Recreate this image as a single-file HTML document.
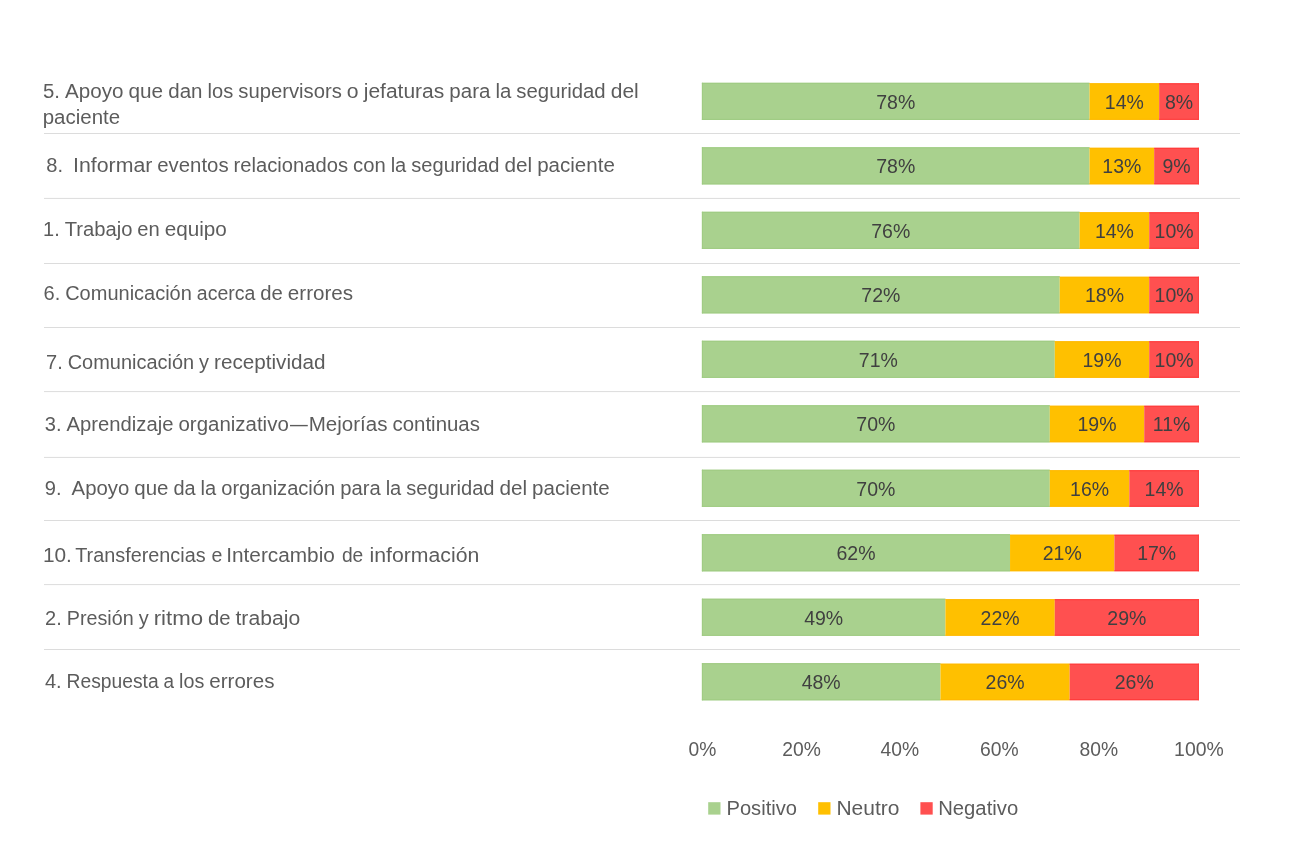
<!DOCTYPE html>
<html lang="es">
<head>
<meta charset="utf-8">
<title>Resultados por dimensión</title>
<style>
html,body{margin:0;padding:0;background:#fff;}
body{width:1314px;height:865px;overflow:hidden;}
svg{display:block;}
text{font-family:"Liberation Sans",sans-serif;font-size:19.4px;}
.cat{fill:#5c5c5c;}
.val{fill:#404040;text-anchor:middle;font-size:19.5px;}
.ax{fill:#5c5c5c;text-anchor:middle;}
.lg{fill:#5c5c5c;}
</style>
</head>
<body>
<svg width="1314" height="865" viewBox="0 0 1314 865">
<rect x="0" y="0" width="1314" height="865" fill="#ffffff"/>

<rect x="44" y="133.00" width="1196" height="1" fill="#dcdcdc"/>
<rect x="44" y="197.90" width="1196" height="1" fill="#dcdcdc"/>
<rect x="44" y="263.00" width="1196" height="1" fill="#dcdcdc"/>
<rect x="44" y="327.00" width="1196" height="1" fill="#dcdcdc"/>
<rect x="44" y="391.10" width="1196" height="1" fill="#dcdcdc"/>
<rect x="44" y="456.90" width="1196" height="1" fill="#dcdcdc"/>
<rect x="44" y="520.00" width="1196" height="1" fill="#dcdcdc"/>
<rect x="44" y="584.10" width="1196" height="1" fill="#dcdcdc"/>
<rect x="44" y="649.00" width="1196" height="1" fill="#dcdcdc"/>
<rect x="701.90" y="82.80" width="387.66" height="37.10" fill="#a9d18e"/>
<rect x="701.90" y="82.80" width="387.66" height="1" fill="#9fcb82"/>
<rect x="701.90" y="118.90" width="387.66" height="1" fill="#9fcb82"/>
<rect x="1089.56" y="83.30" width="69.58" height="36.50" fill="#ffc000"/>
<rect x="1089.56" y="83.30" width="69.58" height="1" fill="#ffb800"/>
<rect x="1089.56" y="118.80" width="69.58" height="1" fill="#ffb800"/>
<rect x="1159.14" y="83.30" width="39.76" height="36.50" fill="#ff5050"/>
<rect x="1159.14" y="83.30" width="39.76" height="1" fill="#ff3838"/>
<rect x="1159.14" y="118.80" width="39.76" height="1" fill="#ff3838"/>
<rect x="701.90" y="82.80" width="1" height="37.10" fill="#9fcb82"/>
<rect x="1197.90" y="83.30" width="1" height="36.50" fill="#ff4040"/>
<text class="val" x="895.73" y="109.00">78%</text>
<text class="val" x="1124.35" y="109.00">14%</text>
<text class="val" x="1179.02" y="109.00">8%</text>
<rect x="701.90" y="147.29" width="387.66" height="37.10" fill="#a9d18e"/>
<rect x="701.90" y="147.29" width="387.66" height="1" fill="#9fcb82"/>
<rect x="701.90" y="183.39" width="387.66" height="1" fill="#9fcb82"/>
<rect x="1089.56" y="147.79" width="64.61" height="36.50" fill="#ffc000"/>
<rect x="1089.56" y="147.79" width="64.61" height="1" fill="#ffb800"/>
<rect x="1089.56" y="183.29" width="64.61" height="1" fill="#ffb800"/>
<rect x="1154.17" y="147.79" width="44.73" height="36.50" fill="#ff5050"/>
<rect x="1154.17" y="147.79" width="44.73" height="1" fill="#ff3838"/>
<rect x="1154.17" y="183.29" width="44.73" height="1" fill="#ff3838"/>
<rect x="701.90" y="147.29" width="1" height="37.10" fill="#9fcb82"/>
<rect x="1197.90" y="147.79" width="1" height="36.50" fill="#ff4040"/>
<text class="val" x="895.73" y="173.49">78%</text>
<text class="val" x="1121.87" y="173.49">13%</text>
<text class="val" x="1176.54" y="173.49">9%</text>
<rect x="701.90" y="211.78" width="377.72" height="37.10" fill="#a9d18e"/>
<rect x="701.90" y="211.78" width="377.72" height="1" fill="#9fcb82"/>
<rect x="701.90" y="247.88" width="377.72" height="1" fill="#9fcb82"/>
<rect x="1079.62" y="212.28" width="69.58" height="36.50" fill="#ffc000"/>
<rect x="1079.62" y="212.28" width="69.58" height="1" fill="#ffb800"/>
<rect x="1079.62" y="247.78" width="69.58" height="1" fill="#ffb800"/>
<rect x="1149.20" y="212.28" width="49.70" height="36.50" fill="#ff5050"/>
<rect x="1149.20" y="212.28" width="49.70" height="1" fill="#ff3838"/>
<rect x="1149.20" y="247.78" width="49.70" height="1" fill="#ff3838"/>
<rect x="701.90" y="211.78" width="1" height="37.10" fill="#9fcb82"/>
<rect x="1197.90" y="212.28" width="1" height="36.50" fill="#ff4040"/>
<text class="val" x="890.76" y="237.98">76%</text>
<text class="val" x="1114.41" y="237.98">14%</text>
<text class="val" x="1174.05" y="237.98">10%</text>
<rect x="701.90" y="276.27" width="357.84" height="37.10" fill="#a9d18e"/>
<rect x="701.90" y="276.27" width="357.84" height="1" fill="#9fcb82"/>
<rect x="701.90" y="312.37" width="357.84" height="1" fill="#9fcb82"/>
<rect x="1059.74" y="276.77" width="89.46" height="36.50" fill="#ffc000"/>
<rect x="1059.74" y="276.77" width="89.46" height="1" fill="#ffb800"/>
<rect x="1059.74" y="312.27" width="89.46" height="1" fill="#ffb800"/>
<rect x="1149.20" y="276.77" width="49.70" height="36.50" fill="#ff5050"/>
<rect x="1149.20" y="276.77" width="49.70" height="1" fill="#ff3838"/>
<rect x="1149.20" y="312.27" width="49.70" height="1" fill="#ff3838"/>
<rect x="701.90" y="276.27" width="1" height="37.10" fill="#9fcb82"/>
<rect x="1197.90" y="276.77" width="1" height="36.50" fill="#ff4040"/>
<text class="val" x="880.82" y="302.47">72%</text>
<text class="val" x="1104.47" y="302.47">18%</text>
<text class="val" x="1174.05" y="302.47">10%</text>
<rect x="701.90" y="340.76" width="352.87" height="37.10" fill="#a9d18e"/>
<rect x="701.90" y="340.76" width="352.87" height="1" fill="#9fcb82"/>
<rect x="701.90" y="376.86" width="352.87" height="1" fill="#9fcb82"/>
<rect x="1054.77" y="341.26" width="94.43" height="36.50" fill="#ffc000"/>
<rect x="1054.77" y="341.26" width="94.43" height="1" fill="#ffb800"/>
<rect x="1054.77" y="376.76" width="94.43" height="1" fill="#ffb800"/>
<rect x="1149.20" y="341.26" width="49.70" height="36.50" fill="#ff5050"/>
<rect x="1149.20" y="341.26" width="49.70" height="1" fill="#ff3838"/>
<rect x="1149.20" y="376.76" width="49.70" height="1" fill="#ff3838"/>
<rect x="701.90" y="340.76" width="1" height="37.10" fill="#9fcb82"/>
<rect x="1197.90" y="341.26" width="1" height="36.50" fill="#ff4040"/>
<text class="val" x="878.34" y="366.96">71%</text>
<text class="val" x="1101.99" y="366.96">19%</text>
<text class="val" x="1174.05" y="366.96">10%</text>
<rect x="701.90" y="405.25" width="347.90" height="37.10" fill="#a9d18e"/>
<rect x="701.90" y="405.25" width="347.90" height="1" fill="#9fcb82"/>
<rect x="701.90" y="441.35" width="347.90" height="1" fill="#9fcb82"/>
<rect x="1049.80" y="405.75" width="94.43" height="36.50" fill="#ffc000"/>
<rect x="1049.80" y="405.75" width="94.43" height="1" fill="#ffb800"/>
<rect x="1049.80" y="441.25" width="94.43" height="1" fill="#ffb800"/>
<rect x="1144.23" y="405.75" width="54.67" height="36.50" fill="#ff5050"/>
<rect x="1144.23" y="405.75" width="54.67" height="1" fill="#ff3838"/>
<rect x="1144.23" y="441.25" width="54.67" height="1" fill="#ff3838"/>
<rect x="701.90" y="405.25" width="1" height="37.10" fill="#9fcb82"/>
<rect x="1197.90" y="405.75" width="1" height="36.50" fill="#ff4040"/>
<text class="val" x="875.85" y="431.45">70%</text>
<text class="val" x="1097.02" y="431.45">19%</text>
<text class="val" x="1171.57" y="431.45">11%</text>
<rect x="701.90" y="469.74" width="347.90" height="37.10" fill="#a9d18e"/>
<rect x="701.90" y="469.74" width="347.90" height="1" fill="#9fcb82"/>
<rect x="701.90" y="505.84" width="347.90" height="1" fill="#9fcb82"/>
<rect x="1049.80" y="470.24" width="79.52" height="36.50" fill="#ffc000"/>
<rect x="1049.80" y="470.24" width="79.52" height="1" fill="#ffb800"/>
<rect x="1049.80" y="505.74" width="79.52" height="1" fill="#ffb800"/>
<rect x="1129.32" y="470.24" width="69.58" height="36.50" fill="#ff5050"/>
<rect x="1129.32" y="470.24" width="69.58" height="1" fill="#ff3838"/>
<rect x="1129.32" y="505.74" width="69.58" height="1" fill="#ff3838"/>
<rect x="701.90" y="469.74" width="1" height="37.10" fill="#9fcb82"/>
<rect x="1197.90" y="470.24" width="1" height="36.50" fill="#ff4040"/>
<text class="val" x="875.85" y="495.94">70%</text>
<text class="val" x="1089.56" y="495.94">16%</text>
<text class="val" x="1164.11" y="495.94">14%</text>
<rect x="701.90" y="534.23" width="308.14" height="37.10" fill="#a9d18e"/>
<rect x="701.90" y="534.23" width="308.14" height="1" fill="#9fcb82"/>
<rect x="701.90" y="570.33" width="308.14" height="1" fill="#9fcb82"/>
<rect x="1010.04" y="534.73" width="104.37" height="36.50" fill="#ffc000"/>
<rect x="1010.04" y="534.73" width="104.37" height="1" fill="#ffb800"/>
<rect x="1010.04" y="570.23" width="104.37" height="1" fill="#ffb800"/>
<rect x="1114.41" y="534.73" width="84.49" height="36.50" fill="#ff5050"/>
<rect x="1114.41" y="534.73" width="84.49" height="1" fill="#ff3838"/>
<rect x="1114.41" y="570.23" width="84.49" height="1" fill="#ff3838"/>
<rect x="701.90" y="534.23" width="1" height="37.10" fill="#9fcb82"/>
<rect x="1197.90" y="534.73" width="1" height="36.50" fill="#ff4040"/>
<text class="val" x="855.97" y="560.43">62%</text>
<text class="val" x="1062.23" y="560.43">21%</text>
<text class="val" x="1156.66" y="560.43">17%</text>
<rect x="701.90" y="598.72" width="243.53" height="37.10" fill="#a9d18e"/>
<rect x="701.90" y="598.72" width="243.53" height="1" fill="#9fcb82"/>
<rect x="701.90" y="634.82" width="243.53" height="1" fill="#9fcb82"/>
<rect x="945.43" y="599.22" width="109.34" height="36.50" fill="#ffc000"/>
<rect x="945.43" y="599.22" width="109.34" height="1" fill="#ffb800"/>
<rect x="945.43" y="634.72" width="109.34" height="1" fill="#ffb800"/>
<rect x="1054.77" y="599.22" width="144.13" height="36.50" fill="#ff5050"/>
<rect x="1054.77" y="599.22" width="144.13" height="1" fill="#ff3838"/>
<rect x="1054.77" y="634.72" width="144.13" height="1" fill="#ff3838"/>
<rect x="701.90" y="598.72" width="1" height="37.10" fill="#9fcb82"/>
<rect x="1197.90" y="599.22" width="1" height="36.50" fill="#ff4040"/>
<text class="val" x="823.66" y="624.92">49%</text>
<text class="val" x="1000.10" y="624.92">22%</text>
<text class="val" x="1126.84" y="624.92">29%</text>
<rect x="701.90" y="663.21" width="238.56" height="37.10" fill="#a9d18e"/>
<rect x="701.90" y="663.21" width="238.56" height="1" fill="#9fcb82"/>
<rect x="701.90" y="699.31" width="238.56" height="1" fill="#9fcb82"/>
<rect x="940.46" y="663.71" width="129.22" height="36.50" fill="#ffc000"/>
<rect x="940.46" y="663.71" width="129.22" height="1" fill="#ffb800"/>
<rect x="940.46" y="699.21" width="129.22" height="1" fill="#ffb800"/>
<rect x="1069.68" y="663.71" width="129.22" height="36.50" fill="#ff5050"/>
<rect x="1069.68" y="663.71" width="129.22" height="1" fill="#ff3838"/>
<rect x="1069.68" y="699.21" width="129.22" height="1" fill="#ff3838"/>
<rect x="701.90" y="663.21" width="1" height="37.10" fill="#9fcb82"/>
<rect x="1197.90" y="663.71" width="1" height="36.50" fill="#ff4040"/>
<text class="val" x="821.18" y="689.41">48%</text>
<text class="val" x="1005.07" y="689.41">26%</text>
<text class="val" x="1134.29" y="689.41">26%</text>
<text class="cat" y="97.70"><tspan x="42.98" textLength="16.99" lengthAdjust="spacingAndGlyphs">5.</tspan> <tspan x="65.03" textLength="58.44" lengthAdjust="spacingAndGlyphs">Apoyo</tspan> <tspan x="128.53" textLength="34.65" lengthAdjust="spacingAndGlyphs">que</tspan> <tspan x="168.24" textLength="34.22" lengthAdjust="spacingAndGlyphs">dan</tspan> <tspan x="207.52" textLength="25.67" lengthAdjust="spacingAndGlyphs">los</tspan> <tspan x="238.25" textLength="103.56" lengthAdjust="spacingAndGlyphs">supervisors</tspan> <tspan x="346.87" textLength="11.80" lengthAdjust="spacingAndGlyphs">o</tspan> <tspan x="363.73" textLength="80.58" lengthAdjust="spacingAndGlyphs">jefaturas</tspan> <tspan x="449.36" textLength="41.00" lengthAdjust="spacingAndGlyphs">para</tspan> <tspan x="495.42" textLength="15.85" lengthAdjust="spacingAndGlyphs">la</tspan> <tspan x="516.33" textLength="89.35" lengthAdjust="spacingAndGlyphs">seguridad</tspan> <tspan x="610.74" textLength="28.02" lengthAdjust="spacingAndGlyphs">del</tspan></text>
<text class="cat" y="123.90"><tspan x="42.69" textLength="77.42" lengthAdjust="spacingAndGlyphs">paciente</tspan></text>
<text class="cat" y="171.80"><tspan x="46.31" textLength="16.77" lengthAdjust="spacingAndGlyphs">8.</tspan>  <tspan x="73.08" textLength="79.23" lengthAdjust="spacingAndGlyphs">Informar</tspan> <tspan x="157.30" textLength="71.29" lengthAdjust="spacingAndGlyphs">eventos</tspan> <tspan x="233.59" textLength="114.50" lengthAdjust="spacingAndGlyphs">relacionados</tspan> <tspan x="353.08" textLength="32.60" lengthAdjust="spacingAndGlyphs">con</tspan> <tspan x="390.67" textLength="15.65" lengthAdjust="spacingAndGlyphs">la</tspan> <tspan x="411.31" textLength="88.22" lengthAdjust="spacingAndGlyphs">seguridad</tspan> <tspan x="504.53" textLength="27.67" lengthAdjust="spacingAndGlyphs">del</tspan> <tspan x="537.19" textLength="77.61" lengthAdjust="spacingAndGlyphs">paciente</tspan></text>
<text class="cat" y="235.80"><tspan x="43.05" textLength="16.66" lengthAdjust="spacingAndGlyphs">1.</tspan> <tspan x="64.67" textLength="67.71" lengthAdjust="spacingAndGlyphs">Trabajo</tspan> <tspan x="137.34" textLength="22.45" lengthAdjust="spacingAndGlyphs">en</tspan> <tspan x="164.76" textLength="62.10" lengthAdjust="spacingAndGlyphs">equipo</tspan></text>
<text class="cat" y="299.60"><tspan x="43.47" textLength="16.74" lengthAdjust="spacingAndGlyphs">6.</tspan> <tspan x="65.19" textLength="126.67" lengthAdjust="spacingAndGlyphs">Comunicación</tspan> <tspan x="196.85" textLength="58.46" lengthAdjust="spacingAndGlyphs">acerca</tspan> <tspan x="260.29" textLength="22.56" lengthAdjust="spacingAndGlyphs">de</tspan> <tspan x="287.84" textLength="65.30" lengthAdjust="spacingAndGlyphs">errores</tspan></text>
<text class="cat" y="368.50"><tspan x="46.06" textLength="16.70" lengthAdjust="spacingAndGlyphs">7.</tspan> <tspan x="67.73" textLength="126.38" lengthAdjust="spacingAndGlyphs">Comunicación</tspan> <tspan x="199.08" textLength="9.97" lengthAdjust="spacingAndGlyphs">y</tspan> <tspan x="214.02" textLength="111.49" lengthAdjust="spacingAndGlyphs">receptividad</tspan></text>
<text class="cat" y="430.70"><tspan x="44.82" textLength="16.76" lengthAdjust="spacingAndGlyphs">3.</tspan> <tspan x="66.57" textLength="106.89" lengthAdjust="spacingAndGlyphs">Aprendizaje</tspan> <tspan x="178.45" textLength="110.33" lengthAdjust="spacingAndGlyphs">organizativo</tspan><tspan x="289.99" textLength="17.78" lengthAdjust="spacingAndGlyphs">—</tspan><tspan x="308.77" textLength="78.76" lengthAdjust="spacingAndGlyphs">Mejorías</tspan> <tspan x="392.52" textLength="87.42" lengthAdjust="spacingAndGlyphs">continuas</tspan></text>
<text class="cat" y="495.40"><tspan x="44.85" textLength="16.77" lengthAdjust="spacingAndGlyphs">9.</tspan>  <tspan x="71.60" textLength="57.68" lengthAdjust="spacingAndGlyphs">Apoyo</tspan> <tspan x="134.27" textLength="34.20" lengthAdjust="spacingAndGlyphs">que</tspan> <tspan x="173.46" textLength="22.18" lengthAdjust="spacingAndGlyphs">da</tspan> <tspan x="200.63" textLength="15.64" lengthAdjust="spacingAndGlyphs">la</tspan> <tspan x="221.26" textLength="113.94" lengthAdjust="spacingAndGlyphs">organización</tspan> <tspan x="340.20" textLength="40.47" lengthAdjust="spacingAndGlyphs">para</tspan> <tspan x="385.66" textLength="15.64" lengthAdjust="spacingAndGlyphs">la</tspan> <tspan x="406.29" textLength="88.19" lengthAdjust="spacingAndGlyphs">seguridad</tspan> <tspan x="499.47" textLength="27.66" lengthAdjust="spacingAndGlyphs">del</tspan> <tspan x="532.12" textLength="77.58" lengthAdjust="spacingAndGlyphs">paciente</tspan></text>
<text class="cat" y="562.20"><tspan x="42.91" textLength="28.99" lengthAdjust="spacingAndGlyphs">10.</tspan> <tspan x="75.26" textLength="130.35" lengthAdjust="spacingAndGlyphs">Transferencias</tspan> <tspan x="211.57" textLength="10.90" lengthAdjust="spacingAndGlyphs">e</tspan> <tspan x="226.28" textLength="108.59" lengthAdjust="spacingAndGlyphs">Intercambio</tspan> <tspan x="341.89" textLength="21.36" lengthAdjust="spacingAndGlyphs">de</tspan> <tspan x="369.58" textLength="109.70" lengthAdjust="spacingAndGlyphs">información</tspan></text>
<text class="cat" y="624.50"><tspan x="45.08" textLength="16.73" lengthAdjust="spacingAndGlyphs">2.</tspan> <tspan x="66.79" textLength="66.92" lengthAdjust="spacingAndGlyphs">Presión</tspan> <tspan x="138.68" textLength="9.98" lengthAdjust="spacingAndGlyphs">y</tspan> <tspan x="153.65" textLength="49.35" lengthAdjust="spacingAndGlyphs">ritmo</tspan> <tspan x="207.98" textLength="22.55" lengthAdjust="spacingAndGlyphs">de</tspan> <tspan x="235.51" textLength="64.65" lengthAdjust="spacingAndGlyphs">trabajo</tspan></text>
<text class="cat" y="688.10"><tspan x="44.93" textLength="16.69" lengthAdjust="spacingAndGlyphs">4.</tspan> <tspan x="66.60" textLength="92.04" lengthAdjust="spacingAndGlyphs">Respuesta</tspan> <tspan x="163.61" textLength="10.53" lengthAdjust="spacingAndGlyphs">a</tspan> <tspan x="179.12" textLength="25.23" lengthAdjust="spacingAndGlyphs">los</tspan> <tspan x="209.31" textLength="65.12" lengthAdjust="spacingAndGlyphs">errores</tspan></text>
<text class="ax" x="702.50" y="756.2" textLength="27.80" lengthAdjust="spacingAndGlyphs">0%</text>
<text class="ax" x="801.60" y="756.2" textLength="38.60" lengthAdjust="spacingAndGlyphs">20%</text>
<text class="ax" x="899.80" y="756.2" textLength="38.60" lengthAdjust="spacingAndGlyphs">40%</text>
<text class="ax" x="999.40" y="756.2" textLength="38.60" lengthAdjust="spacingAndGlyphs">60%</text>
<text class="ax" x="1098.80" y="756.2" textLength="38.60" lengthAdjust="spacingAndGlyphs">80%</text>
<text class="ax" x="1198.90" y="756.2" textLength="49.60" lengthAdjust="spacingAndGlyphs">100%</text>
<rect x="708.2" y="802.2" width="12.3" height="12.4" fill="#a9d18e"/>
<text class="lg" x="726.5" y="814.6" textLength="70.5" lengthAdjust="spacingAndGlyphs">Positivo</text>
<rect x="818.2" y="802.2" width="12.3" height="12.4" fill="#ffc000"/>
<text class="lg" x="836.4" y="814.6" textLength="63" lengthAdjust="spacingAndGlyphs">Neutro</text>
<rect x="920.4" y="802.2" width="12.3" height="12.4" fill="#ff5050"/>
<text class="lg" x="938.2" y="814.6" textLength="80" lengthAdjust="spacingAndGlyphs">Negativo</text>
</svg>
</body>
</html>
